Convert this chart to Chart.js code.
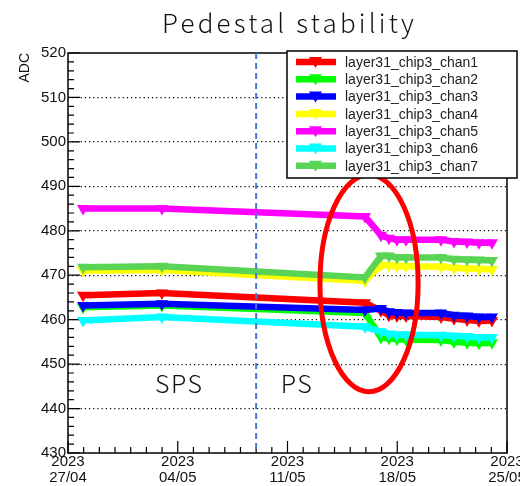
<!DOCTYPE html>
<html>
<head>
<meta charset="utf-8">
<script src="https://cdn.jsdelivr.net/npm/chart.js@4.4.0/dist/chart.umd.min.js"></script>
<style>
body { margin: 0; background: #fff; }
#wrap { width: 520px; height: 486px; position: relative; }
</style>
</head>
<body>
<div id="wrap"><canvas id="PEDESTALCHART"></canvas></div>
<script>
// days since 27/04/2023 00:00
var days = [0.96, 5.99, 18.94, 19.96, 20.47, 20.98, 21.56, 23.79, 24.62, 25.45, 26.21, 27.04];

var chan1 = [465.5, 466.0, 463.8, 462.0, 461.0, 460.8, 460.8, 460.6, 460.2, 459.9, 459.7, 459.8];
var chan2 = [462.8, 463.2, 461.5, 456.0, 455.8, 455.6, 455.5, 455.4, 455.0, 454.8, 454.7, 454.8];
var chan3 = [463.2, 463.6, 462.2, 462.5, 461.8, 461.6, 461.5, 461.5, 461.0, 460.8, 460.6, 460.6];
var chan4 = [471.0, 471.2, 468.7, 472.3, 472.2, 472.0, 472.0, 471.9, 471.6, 471.5, 471.4, 471.3];
var chan5 = [485.0, 485.0, 483.2, 479.0, 478.3, 478.0, 478.0, 478.0, 477.6, 477.5, 477.3, 477.3];
var chan6 = [459.8, 460.6, 458.4, 457.3, 456.8, 456.6, 456.6, 456.5, 456.3, 456.2, 456.0, 456.0];
var chan7 = [471.8, 472.0, 469.5, 474.3, 474.3, 474.0, 474.0, 474.0, 473.6, 473.5, 473.4, 473.3];

var seriesNames = ['layer31_chip3_chan1', 'layer31_chip3_chan2', 'layer31_chip3_chan3', 'layer31_chip3_chan4',
    'layer31_chip3_chan5', 'layer31_chip3_chan6', 'layer31_chip3_chan7'];
var seriesValues = [chan1, chan2, chan3, chan4, chan5, chan6, chan7];
var seriesColors = ['#FF0000', '#00FF00', '#0000FF', '#FFFF00', '#FF00FF', '#00FFFF', '#59D454'];

// x tick labels, one per week
var tickYear = '2023';
var tickDates = ['27/04', '04/05', '11/05', '18/05', '25/05'];

var chartTitle = 'Pedestal stability';

// annotations
var switchDay = 12.0;        // SPS -> PS
var regionText = [{ text: 'SPS', x: 7.1, y: 445.7 }, { text: 'PS', x: 14.6, y: 445.7 }];
var ellipse = { x: 19.2, y: 468.2, rx: 3.13, ry: 24.4 };

var datasets = seriesValues.map((vals, i) => ({
    label: seriesNames[i],
    data: days.map((d, j) => ({ x: d, y: vals[j] })),
    borderColor: seriesColors[i],
    backgroundColor: seriesColors[i],
    borderWidth: 6.5,
    borderCapStyle: 'butt',
    pointStyle: 'triangle',
    rotation: 180,
    pointRadius: 7,
    pointBorderWidth: 0,
    pointBackgroundColor: seriesColors[i],
    order: seriesValues.length - i, // later channels on top, like ROOT
    tension: 0
}));

// frame, inner ticks, title, annotations, legend box
var framePlugin = {
    id: 'frame',
    beforeDatasetsDraw(chart) {
        var c = chart.ctx, a = chart.chartArea;
        var xs = chart.scales.x, ys = chart.scales.y;
        c.save();
        c.strokeStyle = '#000';
        c.lineWidth = 1.5;
        c.strokeRect(a.left, a.top, a.right - a.left, a.bottom - a.top);
        c.lineWidth = 1.2;
        c.beginPath();
        for (var v = 430; v <= 520; v += 2) {
            var py = ys.getPixelForValue(v);
            var len = (v % 10 === 0) ? 12 : 6;
            c.moveTo(a.left, py);
            c.lineTo(a.left + len, py);
        }
        for (var d = 0; d <= 28; d++) {
            var px = xs.getPixelForValue(d);
            var len2 = (d % 7 === 0) ? 12 : 6;
            c.moveTo(px, a.bottom);
            c.lineTo(px, a.bottom - len2);
        }
        c.stroke();

        // title, spaced out like the original
        c.fillStyle = '#111';
        c.font = '300 26px "Noto Sans CJK JP"';
        c.letterSpacing = '3.2px';
        c.textAlign = 'center';
        c.textBaseline = 'middle';
        c.fillText(chartTitle, (a.left + a.right) / 2 + 2, 23);
        c.letterSpacing = '0px';
        c.restore();
    },
    afterDatasetsDraw(chart) {
        var c = chart.ctx, a = chart.chartArea;
        var xs = chart.scales.x, ys = chart.scales.y;
        c.save();
        // dashed beam switch line
        var sx = xs.getPixelForValue(switchDay);
        c.strokeStyle = '#4A78CF';
        c.lineWidth = 2;
        c.setLineDash([6, 4]);
        c.beginPath();
        c.moveTo(sx, a.top);
        c.lineTo(sx, a.bottom);
        c.stroke();
        c.setLineDash([]);

        // SPS / PS
        c.fillStyle = '#111';
        c.font = '300 25px "Noto Sans CJK JP"';
        c.letterSpacing = '1.5px';
        c.textAlign = 'center';
        c.textBaseline = 'middle';
        regionText.forEach(t => {
            c.fillText(t.text, xs.getPixelForValue(t.x), ys.getPixelForValue(t.y));
        });
        c.letterSpacing = '0px';

        // red ellipse
        var ex = xs.getPixelForValue(ellipse.x), ey = ys.getPixelForValue(ellipse.y);
        var erx = xs.getPixelForValue(ellipse.x + ellipse.rx) - ex;
        var ery = ey - ys.getPixelForValue(ellipse.y + ellipse.ry);
        c.strokeStyle = '#FF0000';
        c.lineWidth = 5;
        c.beginPath();
        c.ellipse(ex, ey, erx, ery, 0, 0, Math.PI * 2);
        c.stroke();

        // legend box
        var lx = 287, ly = 51, lw = 230, lh = 127;
        c.fillStyle = '#fff';
        c.fillRect(lx, ly, lw, lh);
        c.strokeStyle = '#000';
        c.lineWidth = 1.5;
        c.strokeRect(lx, ly, lw, lh);
        c.font = '14px "Liberation Sans", Arial, sans-serif';
        c.textAlign = 'left';
        c.textBaseline = 'middle';
        seriesNames.forEach((name, i) => {
            var ry = ly + 11 + i * 17.3;
            c.strokeStyle = seriesColors[i];
            c.lineWidth = 6.5;
            c.beginPath();
            c.moveTo(296, ry);
            c.lineTo(336, ry);
            c.stroke();
            c.fillStyle = seriesColors[i];
            c.beginPath();
            c.moveTo(309, ry - 5);
            c.lineTo(322, ry - 5);
            c.lineTo(315.5, ry + 6);
            c.closePath();
            c.fill();
            c.fillStyle = '#222';
            c.fillText(name, 345, ry + 1);
        });
        c.restore();
    }
};

var ctx = document.getElementById('PEDESTALCHART').getContext('2d');
var myChart = new Chart(ctx, {
    type: 'line',
    data: { datasets: datasets },
    options: {
        responsive: true,
        maintainAspectRatio: false,
        animation: false,
        layout: { padding: { right: 13, left: 0, bottom: 0, top: 53 } },
        scales: {
            x: {
                type: 'linear',
                min: 0,
                max: 28,
                grid: { display: false, drawTicks: false },
                border: { display: false },
                ticks: {
                    stepSize: 1,
                    autoSkip: false,
                    maxRotation: 0,
                    padding: 1,
                    color: '#111',
                    font: { family: '"Liberation Sans", Arial, sans-serif', size: 15, lineHeight: 1.07 },
                    callback: (v) => (v % 7 === 0) ? [tickYear, tickDates[v / 7]] : ''
                },
                afterFit: (s) => { s.height = 33; s.paddingLeft = 0; s.paddingRight = 0; }
            },
            y: {
                min: 430,
                max: 520,
                grid: {
                    drawTicks: false,
                    color: (c) => (c.tick && c.tick.value > 430 && c.tick.value < 520) ? '#000' : 'rgba(0,0,0,0)',
                    lineWidth: 1.2
                },
                border: { display: false, dash: [1.2, 3] },
                ticks: {
                    stepSize: 10,
                    padding: 2,
                    color: '#111',
                    font: { family: '"Liberation Sans", Arial, sans-serif', size: 15 }
                },
                title: {
                    display: true,
                    text: 'ADC',
                    align: 'end',
                    color: '#111',
                    padding: { top: 17, bottom: 0 },
                    font: { family: '"Liberation Sans", Arial, sans-serif', size: 14 }
                },
                afterFit: (s) => { s.width = 68; s.paddingTop = 0; s.paddingBottom = 0; }
            }
        },
        plugins: {
            legend: { display: false },
            tooltip: { enabled: false },
            title: { display: false }
        }
    },
    plugins: [framePlugin]
});
</script>
</body>
</html>
